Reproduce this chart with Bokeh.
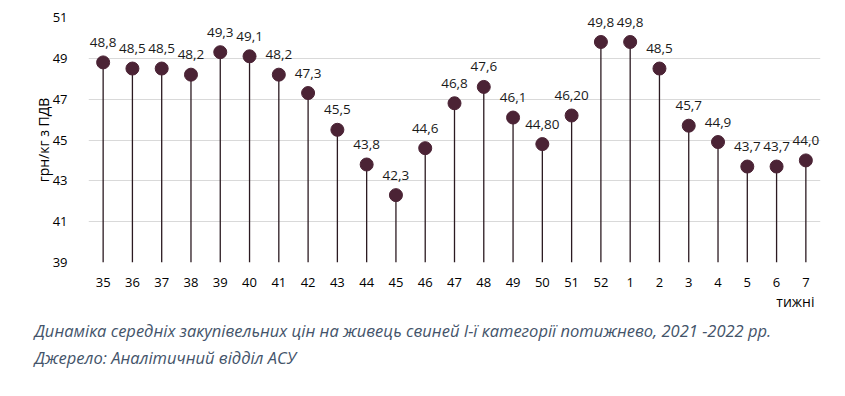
from bokeh.plotting import figure
from bokeh.models import ColumnDataSource, FactorRange, Range1d, Title, FixedTicker, LabelSet
from bokeh.core.properties import value
from bokeh.embed import file_html
from bokeh.resources import INLINE

weeks = ["35", "36", "37", "38", "39", "40", "41", "42", "43", "44", "45", "46", "47",
         "48", "49", "50", "51", "52", "1", "2", "3", "4", "5", "6", "7"]
prices = [48.8, 48.5, 48.5, 48.2, 49.3, 49.1, 48.2, 47.3, 45.5, 43.8, 42.3, 44.6, 46.8,
          47.6, 46.1, 44.8, 46.2, 49.8, 49.8, 48.5, 45.7, 44.9, 43.7, 43.7, 44.0]
price_labels = ["48,8", "48,5", "48,5", "48,2", "49,3", "49,1", "48,2", "47,3", "45,5", "43,8",
                "42,3", "44,6", "46,8", "47,6", "46,1", "44,80", "46,20", "49,8", "49,8", "48,5",
                "45,7", "44,9", "43,7", "43,7", "44,0"]
y_ticks = [39, 41, 43, 45, 47, 49, 51]
y_min, y_max = 39, 51

FONT = "Open Sans"

src = ColumnDataSource(dict(week=weeks, price=prices, base=[y_min] * len(weeks), lab=price_labels))

p = figure(width=829, height=380, x_range=FactorRange(*weeks), y_range=Range1d(y_min, y_max),
           output_backend="svg", toolbar_location=None, min_border_left=88, min_border_right=9,
           min_border_top=17, min_border_bottom=118)
p.outline_line_color = None
p.background_fill_color = "white"

p.segment(x0="week", y0="base", x1="week", y1="price", source=src, line_color="#2B1A21", line_width=1.3)
p.scatter(x="week", y="price", source=src, size=13, fill_color="#4B2335", line_color="#4B2335")

labels = LabelSet(x="week", y="price", text="lab", source=src, text_align="center",
                  text_baseline="middle", y_offset=20, text_font=value(FONT),
                  text_font_size=value("13.5px"), text_color=value("#1a1a1a"))
p.add_layout(labels)

p.xgrid.grid_line_color = None
p.ygrid.grid_line_color = "#D9D9D9"
p.ygrid.grid_line_width = 1
p.yaxis.ticker = FixedTicker(ticks=y_ticks)

for ax in (p.xaxis[0], p.yaxis[0]):
    ax.axis_line_color = None
    ax.major_tick_line_color = None
    ax.minor_tick_line_color = None
    ax.major_label_text_font = FONT
    ax.major_label_text_font_size = "13px"
    ax.major_label_text_color = "#000000"

p.xaxis.major_label_standoff = 9
p.yaxis.major_label_standoff = 15
p.yaxis.axis_label = "грн/кг з ПДВ"
p.yaxis.axis_label_text_font = FONT
p.yaxis.axis_label_text_font_size = "14px"
p.yaxis.axis_label_text_font_style = "normal"
p.yaxis.axis_label_text_color = "#000000"
p.yaxis.axis_label_standoff = -3

t_weeks = Title(text="тижні", align="right", text_font=FONT, text_font_size="14px",
                text_font_style="normal", text_color="#000000", offset=6, standoff=0)
cap = Title(text="Динаміка середніх закупівельних цін на живець свиней І-ї категорії потижнево, 2021 -2022 рр.\n"
                 "Джерело: Аналітичний відділ АСУ",
            align="left", text_font=FONT, text_font_size="16.5px", text_font_style="italic",
            text_color="#44546A", offset=-54, standoff=12, text_line_height=1.2)
p.add_layout(t_weeks, "below")
p.add_layout(cap, "below")

open("out.html", "w").write(file_html(p, INLINE))
